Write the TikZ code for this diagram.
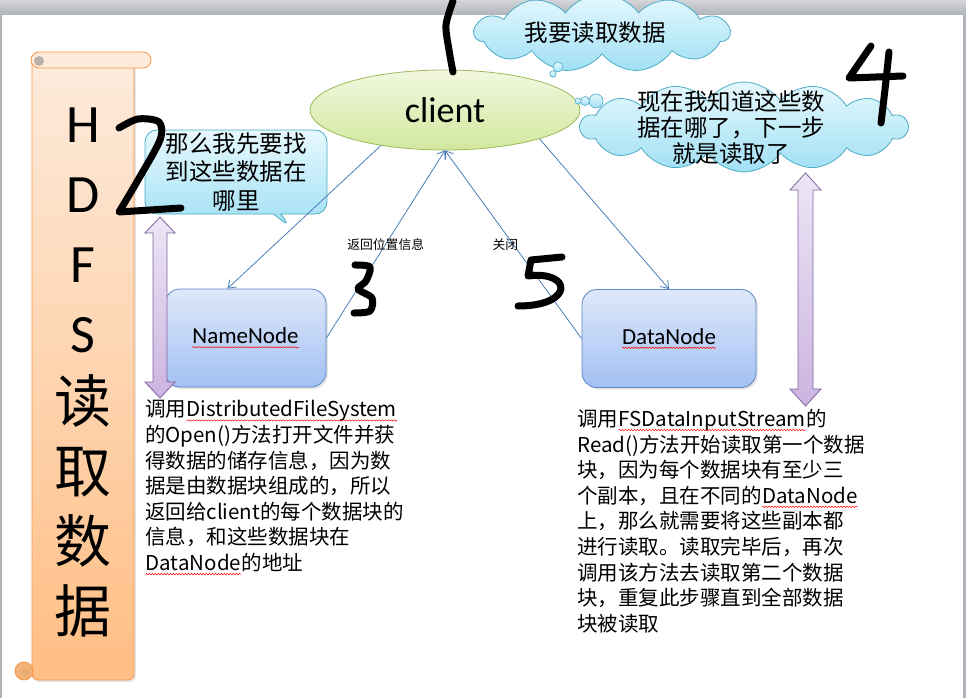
\documentclass[tikz,border=0pt]{standalone}
\usepackage{fontspec}
\setmainfont{Noto Sans CJK SC}
\newfontfamily\cali{Carlito}
\usetikzlibrary{shapes.geometric,shapes.symbols,shapes.callouts,arrows.meta,shadows,decorations.pathmorphing}
\definecolor{scrollTop}{HTML}{FDEBDC}
\definecolor{scrollBot}{HTML}{FFBE84}
\definecolor{scrollLine}{HTML}{F79646}
\definecolor{ellTop}{HTML}{F2F8E0}
\definecolor{ellBot}{HTML}{D2E79E}
\definecolor{ellLine}{HTML}{9BBB59}
\definecolor{boxTop}{HTML}{DEE8F9}
\definecolor{boxBot}{HTML}{A3C1F4}
\definecolor{boxLine}{HTML}{5B87C5}
\definecolor{cldTop}{HTML}{E6F8FD}
\definecolor{cldBot}{HTML}{A0E0F5}
\definecolor{cldLine}{HTML}{4BACC6}
\definecolor{purTop}{HTML}{ECE6F5}
\definecolor{purBot}{HTML}{CCB4E0}
\definecolor{purLine}{HTML}{8064A2}
\definecolor{connLine}{HTML}{4A7EBB}
\definecolor{frameTop}{HTML}{D3D5D9}
\definecolor{frameBot}{HTML}{B0B3B9}
\newcommand\rw[1]{\tikz[baseline=(wv.base)]{\node[inner sep=0pt, anchor=center, draw=none, fill=none] (wv) {#1};
  \draw[red, line width=0.5pt, decorate, decoration={snake, amplitude=0.7pt, segment length=3pt}]
    ([yshift=-3.5pt]wv.base west) -- ([yshift=-3.5pt]wv.base east);}}
\tikzset{
  hand/.style={line width=7pt, line cap=round, line join=round, black},
  conn/.style={draw=connLine, line width=0.8pt, -{Straight Barb[length=7pt,width=10pt]}},
  bluebox/.style={rectangle, rounded corners=15pt, draw=boxLine, line width=0.8pt,
    top color=boxTop, bottom color=boxBot, minimum width=161pt, minimum height=98pt,
    drop shadow={shadow xshift=2pt, shadow yshift=-2pt, opacity=0.2}},
  boxtext/.style={inner sep=0pt, font=\cali\fontsize{23}{26}\selectfont},
  cloudbox/.style={cloud, cloud puffs=13, cloud puff arc=110, draw=cldLine, line width=0.8pt,
    top color=cldTop, bottom color=cldBot, inner sep=0pt},
  bubble/.style={draw=cldLine, line width=0.6pt, top color=cldTop, bottom color=cldBot},
  cjkbig/.style={font=\fontsize{23.5}{28}\selectfont},
  desc/.style={anchor=north west, inner sep=0pt, align=left, font=\fontsize{20.5}{25.6}\selectfont},
  purarrow/.style={draw=purLine, line width=0.8pt, top color=purTop, bottom color=purBot},
  lbl/.style={font=\fontsize{12.8}{14}\selectfont, inner sep=0pt}
}
\begin{document}
\begin{tikzpicture}[x=1pt,y=-1pt]
% frame
\useasboundingbox (0,0) rectangle (966,698);
\fill[frameBot] (0,0) rectangle (966,698);
\shade[top color=frameTop, bottom color=frameBot] (0,0) rectangle (966,15);
\fill[white] (2,15) rectangle (963,698);

% scroll
\draw[scrollLine, line width=0.8pt, top color=scrollTop, bottom color=scrollBot, rounded corners=6pt,
  drop shadow={shadow xshift=2pt, shadow yshift=-2pt, opacity=0.2}] (32,58) rectangle (134,680);
\draw[scrollLine, line width=0.8pt, fill=scrollTop, rounded corners=8pt] (31,52) rectangle (151,68);
\fill[gray!55!scrollTop] (39,61) circle (5pt);
\draw[scrollLine, line width=0.8pt, fill=scrollBot!80!brown] (24,671) circle (9pt);
\fill[scrollBot!70!brown] (26,673) circle (4pt);
\node[inner sep=0pt, align=center, font=\fontsize{54}{70}\selectfont] (title) at (83,372)
  {{\cali H}\\{\cali D}\\{\cali F}\\{\cali S}\\{\fontsize{57}{70}\selectfont 读}\\{\fontsize{57}{70}\selectfont 取}\\{\fontsize{57}{70}\selectfont 数}\\{\fontsize{57}{70}\selectfont 据}};

% client
\node[ellipse, draw=ellLine, line width=0.8pt, top color=ellTop, bottom color=ellBot,
  minimum width=270pt, minimum height=80pt, inner sep=0pt,
  font=\cali\fontsize{36}{40}\selectfont] (client) at (445,110) {client};

% clouds
\node[cloudbox, cloud puffs=11, minimum width=255pt, minimum height=78pt, aspect=3.2,
  label={[cjkbig, xshift=-7pt]center:我要读取数据}] (cloudA) at (602,33) {};
\draw[bubble] (558,67) circle (5pt);
\draw[bubble] (553,74) circle (3.2pt);

\node[cloudbox, cloud puffs=14, minimum width=327pt, minimum height=90pt, aspect=3.6,
  label={[cjkbig, xshift=-13pt, yshift=-1pt, align=center, font=\fontsize{23.5}{26}\selectfont]center:现在我知道这些数\\据在哪了，下一步\\就是读取了}] (cloudB) at (744,127) {};
\draw[bubble] (596,101) circle (7pt);
\draw[bubble] (585,101) circle (4.5pt);
\draw[bubble] (578,101) circle (3pt);

% callout
\node[rectangle callout, rounded corners=12pt, draw=cldLine, line width=0.8pt,
  top color=cldTop, bottom color=cldBot, minimum width=182pt, minimum height=84pt,
  callout absolute pointer={(291,228)}, align=center, inner sep=0pt,
  font=\fontsize{23.5}{28.5}\selectfont] (ask) at (236,172) {那么我先要找\\到这些数据在\\哪里};

% boxes
\node[bluebox] (nn) at (245.5,338) {};
\node[boxtext] (nnlabel) at (nn.center) {\rw{NameNode}};
\node[bluebox, minimum width=174pt] (dn) at (669,338.5) {};
\node[boxtext] (dnlabel) at (dn.center) {\rw{DataNode}};

% connectors
\draw[conn] (client.209) -- ([xshift=-18pt]nn.north);
\draw[conn] (nn.east) -- node[lbl, pos=0.5] {返回位置信息} (client.south);
\draw[conn] (dn.west) -- node[lbl, pos=0.5, xshift=-8pt] {关闭} (client.south);
\draw[conn] (client.-17) -- (dn.north);

% purple double arrows
\draw[purarrow] (160,217) -- (175,233) -- (167,233) -- (167,382) -- (175,382) -- (160,398)
  -- (145,382) -- (153,382) -- (153,233) -- (145,233) -- cycle;
\draw[purarrow] (805.5,173) -- (821,190) -- (813,190) -- (813,389) -- (821,389) -- (805.5,406)
  -- (790,389) -- (798,389) -- (798,190) -- (790,190) -- cycle;

% descriptions
\node[desc] (ldesc) at (145,400) {调用\rw{DistributedFileSystem}\\
的Open()方法打开文件并获\\
得数据的储存信息，因为数\\
据是由数据块组成的，所以\\
返回给client的每个数据块的\\
信息，和这些数据块在\\
\rw{DataNode}的地址};
\node[desc] (rdesc) at (577,409) {调用\rw{FSDataInputStream}的\\
Read()方法开始读取第一个数据\\
块，因为每个数据块有至少三\\
个副本，且在不同的\rw{DataNode}\\
上，那么就需要将这些副本都\\
进行读取。读取完毕后，再次\\
调用该方法去读取第二个数据\\
块，重复此步骤直到全部数据\\
块被读取};

% handwritten numbers
\draw[hand] plot[smooth] coordinates {(453,1) (446,25) (449,50) (453,72)};
\draw[hand] plot[smooth] coordinates {(119,128) (138,119) (159,122) (160,140) (138,180) (119,212)} -- (181,208);
\draw[hand] plot[smooth] coordinates {(355,265) (370,267) (366,281) (358,289) (372,298) (370,311) (354,313)};
\draw[hand] (871,46) -- (849,78) -- (903,76);
\draw[hand] (889,52) .. controls (885,90) .. (881,123);
\draw[hand] (562,257) -- (531,260) -- (528,276) .. controls (572,270) and (575,306) .. (518,306);
\end{tikzpicture}
\end{document}
